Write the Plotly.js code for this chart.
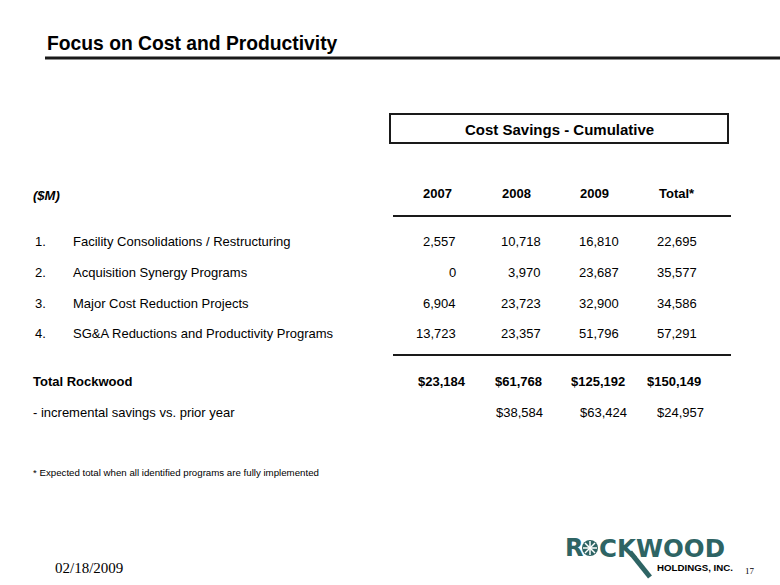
<!DOCTYPE html>
<html>
<head>
<meta charset="utf-8">
<script src="https://cdn.plot.ly/plotly-3.0.1.min.js"></script>
<style>
  html, body { margin: 0; padding: 0; background: #fff; }
  #chart { width: 780px; height: 585px; }
</style>
</head>
<body>
<div id="chart"></div>
<script>
// ---- data ----
const years = ['2007', '2008', '2009', 'Total*'];
const programs = [
    'Facility Consolidations / Restructuring',
    'Acquisition Synergy Programs',
    'Major Cost Reduction Projects',
    'SG&A Reductions and Productivity Programs'
];
const savings2007 = [2557, 0, 6904, 13723];
const savings2008 = [10718, 3970, 23723, 23357];
const savings2009 = [16810, 23687, 32900, 51796];
const savingsTotal = [22695, 35577, 34586, 57291];
const totalRockwood = [23184, 61768, 125192, 150149];
const incremental = [null, 38584, 63424, 24957];

// ---- layout helpers (pixel space) ----
const font = 'Liberation Sans, Arial, sans-serif';
const teal = '#2e6464';
const colRight = [458, 543, 621, 699];
const totalRight = [468, 544, 627, 703];
const incRight = [468, 545, 629, 706];
const headCenter = [437, 516, 594, 677];
const rowY = [241, 272, 303, 333];
const totalY = 381;
const incY = 412;

const fmt = v => v.toLocaleString('en-US');

const ann = (x, y, text, opts = {}) => Object.assign({
    x, y, xref: 'x', yref: 'y', text, showarrow: false,
    xanchor: 'left', yanchor: 'middle',
    font: { family: font, size: 13, color: '#000' }
}, opts);

const annotations = [];

annotations.push(ann(45, 43, '<b>Focus on Cost and Productivity</b>', { font: { family: font, size: 19.3, color: '#000' } }));
annotations.push(ann(559, 129, '<b>Cost Savings - Cumulative</b>', { xanchor: 'center', font: { family: font, size: 15, color: '#000' } }));
annotations.push(ann(31, 195, '<b><i>($M)</i></b>'));

years.forEach((y, i) => {
    annotations.push(ann(headCenter[i], 193, '<b>' + y + '</b>', { xanchor: 'center' }));
});

const cols = [savings2007, savings2008, savings2009, savingsTotal];
programs.forEach((p, r) => {
    annotations.push(ann(33, rowY[r], (r + 1) + '.'));
    annotations.push(ann(71, rowY[r], p.replace('&', '&amp;')));
    cols.forEach((col, c) => {
        annotations.push(ann(colRight[c], rowY[r], fmt(col[r]), { xanchor: 'right' }));
    });
});

annotations.push(ann(31, totalY, '<b>Total Rockwood</b>'));
totalRockwood.forEach((v, c) => {
    annotations.push(ann(totalRight[c], totalY, '<b>$' + fmt(v) + '</b>', { xanchor: 'right' }));
});

annotations.push(ann(31, incY, '- incremental savings vs. prior year'));
incremental.forEach((v, c) => {
    if (v !== null) annotations.push(ann(incRight[c], incY, '$' + fmt(v), { xanchor: 'right' }));
});

annotations.push(ann(31, 472, '* Expected total when all identified programs are fully implemented', { font: { family: font, size: 9.7, color: '#000' } }));

// footer
annotations.push(ann(53, 568, '02/18/2009', { font: { family: 'Liberation Serif, serif', size: 15, color: '#000' } }));
annotations.push(ann(743, 571, '17', { font: { family: 'Liberation Serif, serif', size: 9, color: '#000' } }));

// logo
annotations.push(ann(563, 548, '<b>R</b>', { font: { family: 'DejaVu Sans, sans-serif', size: 24, color: teal } }));
annotations.push(ann(597, 548, '<b>CKWOOD</b>', { font: { family: 'DejaVu Sans, sans-serif', size: 24.5, color: teal } }));
annotations.push(ann(655, 567, '<b>HOLDINGS, INC.</b>', { font: { family: font, size: 9.7, color: '#000' } }));

const shapes = [
    { type: 'line', xref: 'x', yref: 'y', x0: 45, x1: 780, y0: 58, y1: 58, line: { color: '#1a1a1a', width: 3 } },
    { type: 'rect', xref: 'x', yref: 'y', x0: 390, x1: 728, y0: 114, y1: 143, line: { color: '#1a1a1a', width: 2 } },
    { type: 'line', xref: 'x', yref: 'y', x0: 393, x1: 731, y0: 216, y1: 216, line: { color: '#1a1a1a', width: 2 } },
    { type: 'line', xref: 'x', yref: 'y', x0: 393, x1: 731, y0: 355, y1: 355, line: { color: '#1a1a1a', width: 2 } },
    // logo star
    { type: 'circle', xref: 'x', yref: 'y', x0: 582, x1: 598, y0: 540, y1: 556, fillcolor: teal, line: { width: 0 } },
    { type: 'line', xref: 'x', yref: 'y', x0: 583, x1: 597, y0: 548, y1: 548, line: { color: '#fff', width: 1.5 } },
    { type: 'line', xref: 'x', yref: 'y', x0: 590, x1: 590, y0: 541, y1: 555, line: { color: '#fff', width: 1.5 } },
    { type: 'line', xref: 'x', yref: 'y', x0: 585, x1: 595, y0: 543, y1: 553, line: { color: '#fff', width: 1.5 } },
    { type: 'line', xref: 'x', yref: 'y', x0: 585, x1: 595, y0: 553, y1: 543, line: { color: '#fff', width: 1.5 } },
    // K tail
    { type: 'line', xref: 'x', yref: 'y', x0: 630, x1: 650, y0: 552, y1: 577, line: { color: teal, width: 5 } }
];

const layout = {
    width: 780,
    height: 585,
    margin: { l: 0, r: 0, t: 0, b: 0 },
    paper_bgcolor: '#fff',
    plot_bgcolor: '#fff',
    showlegend: false,
    xaxis: { range: [0, 780], visible: false, fixedrange: true },
    yaxis: { range: [585, 0], visible: false, fixedrange: true },
    annotations,
    shapes
};

Plotly.newPlot('chart', [], layout, { displayModeBar: false, staticPlot: true });
</script>
</body>
</html>
